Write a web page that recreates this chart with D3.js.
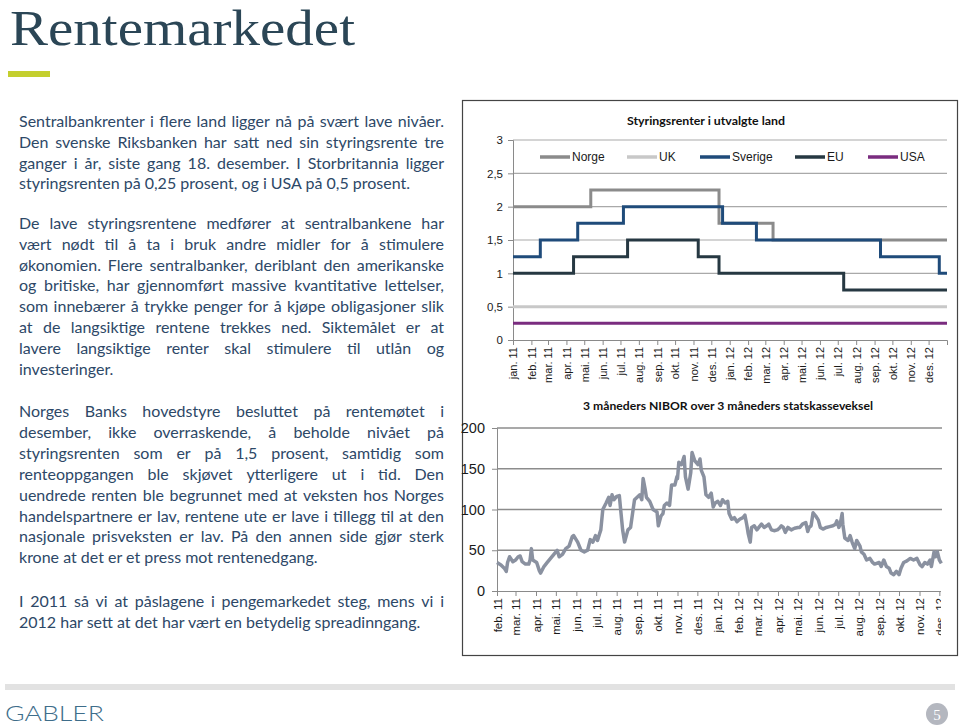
<!DOCTYPE html>
<html><head><meta charset="utf-8">
<script src="https://cdn.jsdelivr.net/npm/d3@7"></script>
<style>body{margin:0;background:#fff}svg{display:block}</style>
</head><body>
<script>
// ---------------- DATA ----------------
const rateSeriesNames = ["Norge", "UK", "Sverige", "EU", "USA"];
const norgeDates   = ["2011-01-01", "2011-05-12", "2011-12-14", "2012-03-14"];
const norgeValues  = [2.0, 2.25, 1.75, 1.5];
const ukDates      = ["2011-01-01"];
const ukValues     = [0.5];
const sverigeDates = ["2011-01-01", "2011-02-16", "2011-04-20", "2011-07-06", "2011-12-20", "2012-02-15", "2012-09-11", "2012-12-19"];
const sverigeValues= [1.25, 1.5, 1.75, 2.0, 1.75, 1.5, 1.25, 1.0];
const euDates      = ["2011-01-01", "2011-04-13", "2011-07-13", "2011-11-09", "2011-12-14", "2012-07-11"];
const euValues     = [1.0, 1.25, 1.5, 1.25, 1.0, 0.75];
const usaDates     = ["2011-01-01"];
const usaValues    = [0.25];
const rateStart = "2011-01-01", rateEnd = "2013-01-01";
const rateYTicks = [0, 0.5, 1, 1.5, 2, 2.5, 3];
const rateMonthLabels = ["jan. 11","feb. 11","mar. 11","apr. 11","mai. 11","jun. 11","jul. 11","aug. 11","sep. 11","okt. 11","nov. 11","des. 11",
                         "jan. 12","feb. 12","mar. 12","apr. 12","mai. 12","jun. 12","jul. 12","aug. 12","sep. 12","okt. 12","nov. 12","des. 12"];

const niborDates = [
 "2011-02-01","2011-02-07","2011-02-12","2011-02-15","2011-02-17","2011-02-20","2011-02-25",
 "2011-03-01","2011-03-05","2011-03-08","2011-03-11","2011-03-16","2011-03-21","2011-03-23","2011-03-25","2011-03-27",
 "2011-04-02","2011-04-06","2011-04-08","2011-04-13","2011-04-18","2011-04-23","2011-04-28",
 "2011-05-03","2011-05-06","2011-05-11","2011-05-16","2011-05-21","2011-05-26","2011-05-28",
 "2011-06-03","2011-06-08","2011-06-13","2011-06-18","2011-06-22","2011-06-26","2011-06-30",
 "2011-07-03","2011-07-06","2011-07-08","2011-07-11","2011-07-16","2011-07-20","2011-07-22","2011-07-25","2011-07-28",
 "2011-08-01","2011-08-05","2011-08-07","2011-08-10","2011-08-13","2011-08-18","2011-08-22","2011-08-25","2011-08-28",
 "2011-09-01","2011-09-05","2011-09-08","2011-09-10","2011-09-13","2011-09-15","2011-09-20","2011-09-25",
 "2011-10-01","2011-10-03","2011-10-07","2011-10-10","2011-10-12","2011-10-16","2011-10-20","2011-10-23","2011-10-28","2011-10-31",
 "2011-11-01","2011-11-03","2011-11-07","2011-11-11","2011-11-13","2011-11-17","2011-11-21","2011-11-23","2011-11-27",
 "2011-12-02","2011-12-05","2011-12-07","2011-12-11","2011-12-14","2011-12-18","2011-12-22","2011-12-25","2011-12-28",
 "2012-01-01","2012-01-05","2012-01-08","2012-01-12","2012-01-16","2012-01-18","2012-01-22","2012-01-26","2012-01-30",
 "2012-02-03","2012-02-08","2012-02-11","2012-02-14","2012-02-16","2012-02-19","2012-02-21","2012-02-25","2012-02-29",
 "2012-03-03","2012-03-07","2012-03-11","2012-03-15","2012-03-18","2012-03-22","2012-03-26","2012-03-31",
 "2012-04-03","2012-04-06","2012-04-09","2012-04-12","2012-04-16","2012-04-21","2012-04-26",
 "2012-05-01","2012-05-04","2012-05-08","2012-05-13","2012-05-16","2012-05-18","2012-05-21","2012-05-24","2012-05-28",
 "2012-06-01","2012-06-04","2012-06-08","2012-06-13","2012-06-18","2012-06-23","2012-06-27","2012-06-29",
 "2012-07-02","2012-07-04","2012-07-07","2012-07-08","2012-07-11","2012-07-16","2012-07-19","2012-07-22","2012-07-26","2012-07-29",
 "2012-08-03","2012-08-05","2012-08-09","2012-08-13","2012-08-18","2012-08-22","2012-08-25",
 "2012-09-01","2012-09-04","2012-09-08","2012-09-12","2012-09-16","2012-09-19","2012-09-23","2012-09-27",
 "2012-10-01","2012-10-04","2012-10-08","2012-10-13","2012-10-18","2012-10-23","2012-10-28",
 "2012-11-02","2012-11-05","2012-11-09","2012-11-13","2012-11-17","2012-11-19","2012-11-23","2012-11-25","2012-11-28",
 "2012-12-01","2012-12-04"];
const niborValues = [
 35,32,28,24,35,42,36,
 38,42,43,36,33,33,38,52,38,
 35,25,22,30,35,40,45,
 50,42,45,52,55,67,68,
 60,50,48,50,63,60,68,
 62,70,75,100,108,115,105,118,112,
 116,117,100,75,60,75,78,95,112,
 115,118,112,138,125,115,110,100,
 97,80,92,95,105,108,105,130,130,140,
 138,158,155,165,140,125,145,170,160,
 155,162,148,140,118,115,120,103,108,
 110,105,112,108,110,95,88,90,85,
 88,90,93,80,70,60,78,80,75,
 78,82,78,80,82,75,74,75,
 77,80,78,72,78,75,77,
 78,78,82,84,73,78,80,96,92,
 87,78,76,78,79,80,82,86,
 78,82,95,82,65,62,68,60,52,62,
 55,48,45,38,40,35,33,
 35,30,38,30,28,22,20,24,
 20,28,35,37,40,38,40,
 32,30,35,33,38,30,48,42,48,
 38,34];
const niborStart = "2011-02-01", niborEnd = "2012-12-05";
const niborYTicks = [0, 50, 100, 150, 200];
const niborMonthLabels = ["feb. 11","mar. 11","apr. 11","mai. 11","jun. 11","jul. 11","aug. 11","sep. 11","okt. 11","nov. 11","des. 11",
                          "jan. 12","feb. 12","mar. 12","apr. 12","mai. 12","jun. 12","jul. 12","aug. 12","sep. 12","okt. 12","nov. 12","des. 12"];

const para1 = ["Sentralbankrenter i flere land ligger nå på svært lave nivåer.",
 "Den svenske Riksbanken har satt ned sin styringsrente tre",
 "ganger i år, siste gang 18. desember. I Storbritannia ligger",
 "styringsrenten på 0,25 prosent, og i USA på 0,5 prosent."];
const para2 = ["De lave styringsrentene medfører at sentralbankene har",
 "vært nødt til å ta i bruk andre midler for å stimulere",
 "økonomien. Flere sentralbanker, deriblant den amerikanske",
 "og britiske, har gjennomført massive kvantitative lettelser,",
 "som innebærer å trykke penger for å kjøpe obligasjoner slik",
 "at de langsiktige rentene trekkes ned. Siktemålet er at",
 "lavere langsiktige renter skal stimulere til utlån og",
 "investeringer."];
const para3 = ["Norges Banks hovedstyre besluttet på rentemøtet i",
 "desember, ikke overraskende, å beholde nivået på",
 "styringsrenten som er på 1,5 prosent, samtidig som",
 "renteoppgangen ble skjøvet ytterligere ut i tid. Den",
 "uendrede renten ble begrunnet med at veksten hos Norges",
 "handelspartnere er lav, rentene ute er lave i tillegg til at den",
 "nasjonale prisveksten er lav. På den annen side gjør sterk",
 "krone at det er et press mot rentenedgang."];
const para4 = ["I 2011 så vi at påslagene i pengemarkedet steg, mens vi i",
 "2012 har sett at det har vært en betydelig spreadinngang."];

// ---------------- DRAW ----------------
const parse = d3.timeParse("%Y-%m-%d");
const svg = d3.select("body").append("svg").attr("width", 960).attr("height", 728);
const SANS = "'Liberation Sans', Arial, sans-serif";
const BODY = "Lato, 'Open Sans', sans-serif";
const fmtComma = d => String(d).replace(".", ",");

// Title
svg.append("text").attr("x", 10).attr("y", 45).text("Rentemarkedet")
  .attr("font-family", "'Liberation Serif', serif").attr("font-size", 50)
  .attr("fill", "#2b4656").attr("textLength", 345).attr("lengthAdjust", "spacingAndGlyphs");
svg.append("rect").attr("x", 8).attr("y", 71).attr("width", 42).attr("height", 6).attr("fill", "#c4cf2e");

// Body text
const TEXTCOL = "#2d4867";
const tmp = svg.append("text").attr("font-family", BODY).attr("font-size", 16);
function measure(s, fs) { tmp.attr("font-size", fs).text(s); return tmp.node().getComputedTextLength(); }
const calib = measure(para3[7], 16) + measure(para4[1], 16) + measure(para1[3], 16);
const FS = Math.max(13, Math.min(17, 16 * (304 + 396 + 391) / calib));
function drawPara(lines, y0, lh) {
  lines.forEach((ln, i) => {
    const y = y0 + i * lh;
    const t = svg.append("text").attr("y", y).attr("font-family", BODY).attr("font-size", FS).attr("fill", TEXTCOL);
    if (i === lines.length - 1) { t.attr("x", 19).text(ln); return; }
    const words = ln.split(" ");
    const widths = words.map(w => measure(w, FS));
    const gap = Math.max(2, (425 - d3.sum(widths)) / (words.length - 1));
    let x = 19;
    words.forEach((w, j) => { t.append("tspan").attr("x", x).text(w); x += widths[j] + gap; });
  });
}
drawPara(para1, 127, 20.8);
drawPara(para2, 229, 20.8);
drawPara(para3, 417, 20.9);
drawPara(para4, 607, 20.8);
tmp.remove();

// Frame
svg.append("rect").attr("x", 462.5).attr("y", 100.5).attr("width", 495).attr("height", 555)
  .attr("fill", "none").attr("stroke", "#444").attr("stroke-width", 1.2);

function styleAxis(g, fs) {
  g.selectAll(".domain").attr("stroke", "#8a8a8a");
  g.selectAll(".tick line").attr("stroke", "#8a8a8a");
  g.selectAll("text").attr("font-family", SANS).attr("font-size", fs).attr("fill", "#1a1a1a");
}

// ---- Top chart ----
const xR = d3.scaleTime().domain([parse(rateStart), parse(rateEnd)]).range([513, 947]);
const yR = d3.scaleLinear().domain([0, 3]).range([340, 140]);
const gTop = svg.append("g");
gTop.append("text").attr("x", 706).attr("y", 125).attr("text-anchor", "middle")
  .attr("font-family", BODY).attr("font-weight", "bold").attr("font-size", 12).attr("fill", "#111")
  .attr("textLength", 158).attr("lengthAdjust", "spacingAndGlyphs").text("Styringsrenter i utvalgte land");
gTop.selectAll("line.grid").data(rateYTicks.filter(d => d > 0)).join("line")
  .attr("x1", 513).attr("x2", 947).attr("y1", d => yR(d)).attr("y2", d => yR(d))
  .attr("stroke", "#a9a9a9").attr("stroke-width", 1.2);
const yAxT = gTop.append("g").attr("transform", "translate(513,0)")
  .call(d3.axisLeft(yR).tickValues(rateYTicks).tickSize(5).tickPadding(5).tickFormat(fmtComma));
styleAxis(yAxT, 11.5);
const rateMonths = d3.timeMonth.range(parse(rateStart), parse(rateEnd));
const xAxT = gTop.append("g").attr("transform", "translate(0,340)")
  .call(d3.axisBottom(xR).tickValues(rateMonths).tickSize(5).tickSizeOuter(5).tickFormat((d, i) => rateMonthLabels[i]));
styleAxis(xAxT, 11);
xAxT.selectAll(".tick text").attr("transform", "rotate(-90)").attr("text-anchor", "end")
  .attr("x", -7).attr("y", 0).attr("dy", "0.35em");

const rateData = [
  { name: "Norge", dates: norgeDates, values: norgeValues, color: "#8b8b8b" },
  { name: "UK", dates: ukDates, values: ukValues, color: "#c8c8c8" },
  { name: "Sverige", dates: sverigeDates, values: sverigeValues, color: "#1f4b7a" },
  { name: "EU", dates: euDates, values: euValues, color: "#263842" },
  { name: "USA", dates: usaDates, values: usaValues, color: "#7a2c7f" }
];
const stepLine = d3.line().x(d => xR(d[0])).y(d => yR(d[1])).curve(d3.curveStepAfter);
rateData.forEach(s => {
  const pts = s.dates.map((d, i) => [parse(d), s.values[i]]);
  pts.push([parse(rateEnd), s.values[s.values.length - 1]]);
  gTop.append("path").datum(pts).attr("d", stepLine).attr("fill", "none")
    .attr("stroke", s.color).attr("stroke-width", 3);
});
// legend
const legX = [540, 627, 700, 795, 868];
rateData.forEach((s, i) => {
  gTop.append("line").attr("x1", legX[i]).attr("x2", legX[i] + 30).attr("y1", 157).attr("y2", 157)
    .attr("stroke", s.color).attr("stroke-width", 3.5);
  gTop.append("text").attr("x", legX[i] + 32).attr("y", 161).text(s.name)
    .attr("font-family", SANS).attr("font-size", 12).attr("fill", "#1a1a1a");
});

// ---- Bottom chart ----
const xN = d3.scaleTime().domain([parse(niborStart), parse(niborEnd)]).range([497, 942]);
const yN = d3.scaleLinear().domain([0, 200]).range([591, 428]);
const gBot = svg.append("g");
gBot.append("text").attr("x", 728).attr("y", 410).attr("text-anchor", "middle")
  .attr("font-family", BODY).attr("font-weight", "bold").attr("font-size", 12).attr("fill", "#111")
  .attr("textLength", 290).attr("lengthAdjust", "spacingAndGlyphs").text("3 måneders NIBOR over 3 måneders statskasseveksel");
gBot.selectAll("line.grid").data(niborYTicks.filter(d => d > 0)).join("line")
  .attr("x1", 497).attr("x2", 942).attr("y1", d => yN(d)).attr("y2", d => yN(d))
  .attr("stroke", "#8c8c8c").attr("stroke-width", 1.4);
const yAxB = gBot.append("g").attr("transform", "translate(497,0)")
  .call(d3.axisLeft(yN).tickValues(niborYTicks).tickSize(5).tickPadding(7));
styleAxis(yAxB, 14.5);
svg.append("clipPath").attr("id", "clipx").append("rect").attr("x", 470).attr("y", 585).attr("width", 471).attr("height", 70);
const niborMonths = d3.timeMonth.range(parse(niborStart), parse(niborEnd));
const xAxB = gBot.append("g").attr("clip-path", "url(#clipx)").append("g").attr("transform", "translate(0,591)")
  .call(d3.axisBottom(xN).tickValues(niborMonths).tickSize(5).tickSizeOuter(5).tickFormat((d, i) => niborMonthLabels[i]));
styleAxis(xAxB, 11.5);
xAxB.selectAll(".tick text").attr("transform", "rotate(-90)").attr("text-anchor", "end")
  .attr("x", -7).attr("y", 0).attr("dy", "0.35em");
const niborPts = niborDates.map((d, i) => [parse(d), niborValues[i]]);
gBot.append("path").datum(niborPts)
  .attr("d", d3.line().x(d => xN(d[0])).y(d => yN(d[1])))
  .attr("fill", "none").attr("stroke", "#8a91a0").attr("stroke-width", 3.5).attr("stroke-linejoin", "round");

// ---- Footer ----
svg.append("rect").attr("x", 5).attr("y", 684).attr("width", 950).attr("height", 6).attr("fill", "#e2e2e2");
svg.append("text").attr("x", 5).attr("y", 721).text("GABLER")
  .attr("font-family", BODY).attr("font-weight", 300).attr("font-size", 22).attr("fill", "#3e6d8a")
  .attr("textLength", 99).attr("lengthAdjust", "spacingAndGlyphs");
svg.append("circle").attr("cx", 937).attr("cy", 714).attr("r", 11).attr("fill", "#b4b7bf");
svg.append("text").attr("x", 937).attr("y", 719.5).attr("text-anchor", "middle").text("5")
  .attr("font-family", "'Liberation Serif', serif").attr("font-size", 15).attr("fill", "#fff");
</script>
</body></html>
